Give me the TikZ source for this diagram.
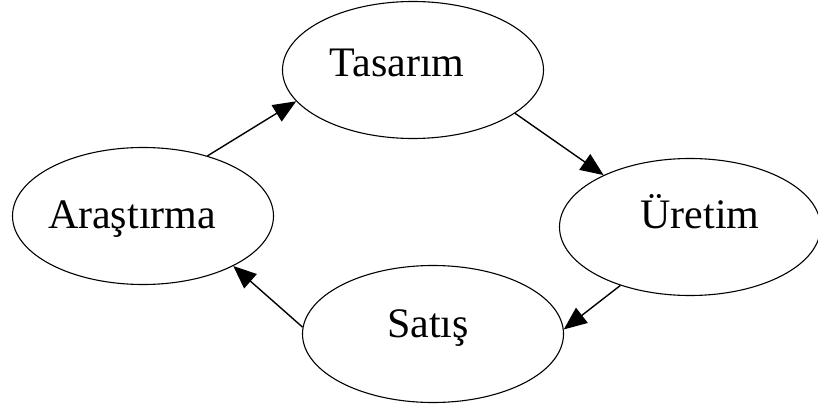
\documentclass[tikz,border=0pt]{standalone}
\usepackage{fontspec}
\setmainfont{Liberation Serif}
\usetikzlibrary{shapes.geometric,arrows.meta}
\begin{document}
\begin{tikzpicture}[x=1pt,y=-1pt,
  ell/.style={draw,ellipse,line width=1.1pt,minimum width=261pt,minimum height=137pt,inner sep=0pt},
  lbl/.style={font=\fontsize{42}{46}\selectfont,inner sep=0pt,anchor=base},
  arr/.style={line width=1.4pt,-{Triangle[length=23pt,width=19pt]}}]
\useasboundingbox (0,0) rectangle (818,409);
\node[ell] (t) at (413,70) {};
\node[ell] (a) at (143,216) {};
\node[ell] (u) at (690,227) {};
\node[ell] (s) at (433,334) {};
\node[lbl] (tl) at (397,77) {Tasarım};
\node[lbl] (al) at (132,228) {Araştırma};
\node[lbl] (ul) at (700,228) {Üretim};
\node[lbl] (sl) at (428,337) {Satış};
\draw[arr] (a.43.6) -- (t.195);
\draw[arr] (t.337.8) -- (u.149.9);
\draw[arr] (u.220.5) -- (s.2.6);
\draw[arr] (s.177) -- (a.331.4);
\end{tikzpicture}
\end{document}
